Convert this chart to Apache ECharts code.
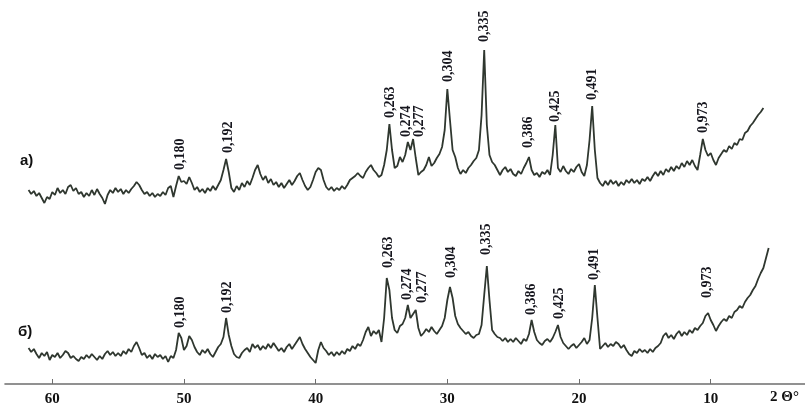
<!DOCTYPE html>
<html>
<head>
<meta charset="utf-8">
<script src="https://cdn.jsdelivr.net/npm/echarts@6/dist/echarts.min.js"></script>
<style>html,body{margin:0;padding:0;background:#fff;}#c{width:805px;height:406px;}</style>
</head>
<body>
<div id="c"></div>
<script>
const thetaStart = 61.8;
const thetaStep = 0.2;

// trace а) intensity (arb. units), one value per 2θ step
const intensityA = [
  30,26,29,24,27, 22,17,23,21,28, 25,32,27,30,26, 33,35,29,32,26, 28,23,27,24,30,
  25,31,26,22,16, 25,30,27,32,28, 31,26,30,27,31, 34,38,35,30,26, 28,24,27,23,26,
  24,28,25,32,34, 23,34,44,38,39, 36,43,37,30,33, 28,31,27,32,29, 34,30,35,40,50,
  61,48,32,28,34, 30,37,33,39,35, 42,50,55,46,40, 44,37,41,35,38, 33,37,32,36,40,
  35,39,44,47,40, 34,30,33,40,48, 52,50,40,33,30, 33,29,32,30,34, 31,35,40,42,44,
  47,44,42,48,52, 55,50,47,43,45, 55,70,96,70,52, 54,63,58,65,78, 70,81,62,45,48,
  50,55,63,54,57, 62,66,73,90,131, 100,70,63,52,46, 50,47,52,55,59, 62,70,105,170,95,
  65,58,55,50,45, 50,53,48,51,46, 44,49,46,52,57, 63,50,45,47,43, 48,46,50,45,65,
  95,52,48,54,49, 46,51,48,53,56, 48,44,55,80,114, 70,42,37,34,39, 35,40,36,39,34,
  38,35,40,37,41, 37,40,36,41,39, 43,39,44,48,44, 49,45,51,48,53, 49,54,51,57,53,
  59,55,60,54,50, 65,81,70,64,67, 60,55,62,66,70, 68,74,71,77,75, 81,80,87,89,94,
  97,101,105,108,112
];

// trace б) intensity (arb. units)
const intensityB = [
  36,32,35,30,26, 31,28,32,24,29, 27,31,26,29,33, 31,26,28,25,23, 27,25,29,26,30,
  27,24,28,25,30, 33,29,32,28,31, 28,33,30,35,32, 38,42,36,29,31, 26,29,25,30,27,
  29,25,28,22,28, 26,34,51,46,34, 38,48,44,37,32, 29,34,31,35,30, 27,32,37,40,47,
  66,49,38,30,27, 26,31,34,36,32, 40,36,39,34,38, 35,40,36,41,37, 33,36,32,37,40,
  35,39,43,47,40, 35,31,27,24,21, 34,42,36,33,29, 32,28,32,29,33, 30,35,33,38,35,
  40,38,44,52,57, 48,53,50,54,42, 66,106,94,66,54, 51,58,60,66,79, 66,70,74,56,48,
  51,55,52,57,53, 50,54,58,66,84, 97,86,68,60,56, 53,50,52,48,46, 49,50,59,89,118,
  84,54,50,47,46, 43,46,42,45,42, 46,43,40,45,43, 50,64,52,44,41, 39,43,45,42,46,
  52,59,47,41,38, 35,38,40,36,39, 42,46,40,44,66, 99,66,35,38,41, 37,40,38,42,40,
  36,39,34,30,28, 33,31,35,32,34, 31,35,32,36,38, 41,48,51,46,49, 45,50,53,48,52,
  49,54,51,56,54, 58,61,68,71,64, 59,53,58,62,65, 63,68,66,72,74, 78,76,82,86,89,
  94,98,105,111,116, 126,136
];

// peak labels (interplanar spacing, nm) with their 2θ position and label base height
const peakLabels = ['0,180','0,192','0,263','0,274','0,277','0,304','0,335','0,386','0,425','0,491','0,973'];
const labelThetaA = [50.30, 46.66, 34.35, 33.13, 32.14, 29.95, 27.22, 23.87, 21.82, 19.01, 10.59];
const labelBaseA  = [50, 67, 102, 83, 83, 138, 178, 72, 98, 120, 87];
const labelThetaB = [50.30, 46.73, 34.51, 33.07, 31.93, 29.72, 27.06, 23.65, 21.52, 18.86, 10.28];
const labelBaseB  = [56, 71, 116, 84, 81, 106, 129, 69, 65, 104, 86];

// axis ticks
const tickValues = [10, 20, 30, 40, 50, 60];
const axisMin = 2.84, axisMax = 63.59;

function toPairs(vals) {
  return vals.map((v, i) => [+(thetaStart - thetaStep * i).toFixed(1), v]);
}
function labelPairs(th, base) { return th.map((t, i) => [t, base[i]]); }

const traceColor = '#2f372f';
const labelFont = 'bold 14px "Liberation Serif"';

function labelRender(params, api) {
  const p = api.coord([api.value(0), api.value(1)]);
  return {
    type: 'text', x: p[0], y: p[1], rotation: Math.PI / 2, silent: true,
    style: { text: peakLabels[params.dataIndex], fill: '#16161e', font: labelFont,
             align: 'left', verticalAlign: 'middle', textAlign: 'left', textVerticalAlign: 'middle' }
  };
}

const chart = echarts.init(document.getElementById('c'), null, { renderer: 'canvas' });
chart.setOption({
  animation: false,
  backgroundColor: '#ffffff',
  grid: [
    { left: 5, right: 0, top: 0, height: 220, outerBoundsMode: 'none', containLabel: false },
    { left: 5, right: 0, top: 220, bottom: 22, outerBoundsMode: 'none', containLabel: false }
  ],
  xAxis: [
    { type: 'value', gridIndex: 0, min: axisMin, max: axisMax, inverse: true, show: false },
    { type: 'value', gridIndex: 1, min: axisMin, max: axisMax, inverse: true,
      axisLine: { show: true, lineStyle: { color: '#6e6e6e', width: 1.6 } },
      axisTick: { show: true, inside: true, length: 5, customValues: tickValues, lineStyle: { color: '#6e6e6e', width: 1 } },
      axisLabel: { show: true, customValues: tickValues, margin: 8, color: '#111',
                   fontFamily: 'Liberation Serif', fontWeight: 'bold', fontSize: 15 },
      splitLine: { show: false } }
  ],
  yAxis: [
    { type: 'value', gridIndex: 0, min: 0, max: 220, show: false },
    { type: 'value', gridIndex: 1, min: 0, max: 164, show: false }
  ],
  graphic: [
    { type: 'text', left: 20, top: 153, style: { text: 'а)', fill: '#111', font: 'bold 15px "Liberation Sans"' } },
    { type: 'text', left: 18, top: 324, style: { text: 'б)', fill: '#111', font: 'bold 15px "Liberation Sans"' } },
    { type: 'text', left: 770, top: 390, style: { text: '2 Θ°', fill: '#111', font: 'bold 15px "Liberation Serif"' } }
  ],
  series: [
    { type: 'line', xAxisIndex: 0, yAxisIndex: 0, data: toPairs(intensityA), showSymbol: false,
      symbol: 'none', lineStyle: { color: traceColor, width: 1.8 }, silent: true },
    { type: 'line', xAxisIndex: 1, yAxisIndex: 1, data: toPairs(intensityB), showSymbol: false,
      symbol: 'none', lineStyle: { color: traceColor, width: 1.8 }, silent: true },
    { type: 'custom', xAxisIndex: 0, yAxisIndex: 0, data: labelPairs(labelThetaA, labelBaseA), renderItem: labelRender, clip: false },
    { type: 'custom', xAxisIndex: 1, yAxisIndex: 1, data: labelPairs(labelThetaB, labelBaseB), renderItem: labelRender, clip: false }
  ]
});
</script>
</body>
</html>
